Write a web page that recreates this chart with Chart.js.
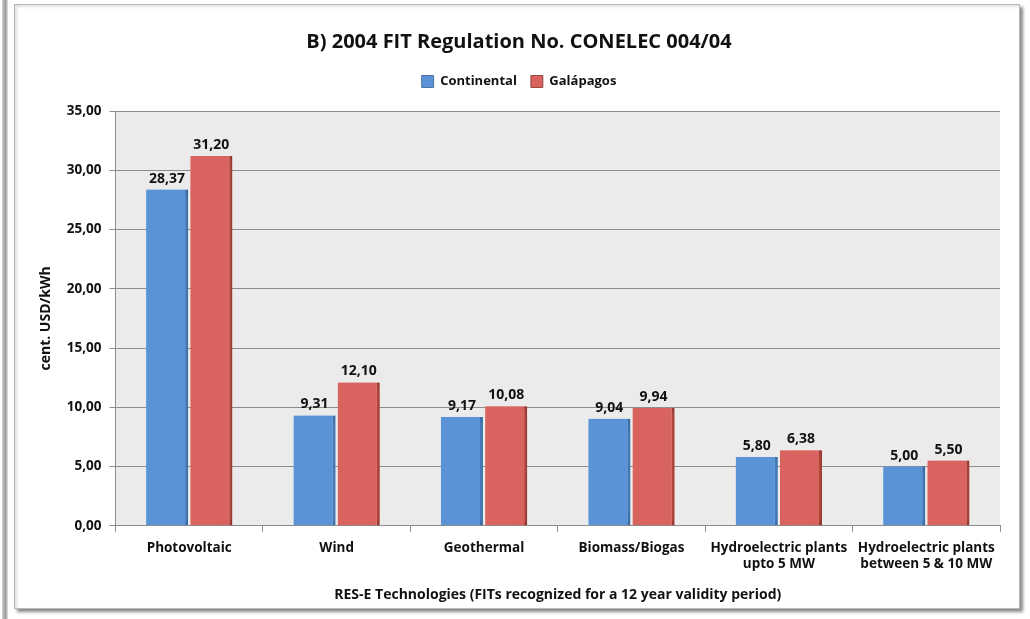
<!DOCTYPE html>
<html>
<head>
<meta charset="utf-8">
<title>2004 FIT Regulation No. CONELEC 004/04</title>
<script src="https://cdn.jsdelivr.net/npm/chart.js@4"></script>
<style>
    html, body { margin: 0; padding: 0; background: #ffffff; }
    body { width: 1030px; height: 619px; position: relative; overflow: hidden; }
    /* neighbouring panel edge on the left */
    #edge {
        position: absolute; left: 2px; top: 0; width: 6px; height: 619px;
        background: linear-gradient(to right, #d0d0d0, #9a9a9a 60%, #e6e6e6);
    }
    #frame {
        position: absolute; left: 14px; top: 4px; width: 1004px; height: 603px;
        border: 1px solid #b8b8b8; background: #ffffff;
        box-shadow: 3px 3px 3px #8a8a8a, inset 2px 2px 3px #e2e2e2;
    }
    #wrap { position: absolute; left: 0; top: 0; width: 1030px; height: 619px; }
</style>
</head>
<body>
<div id="edge"></div>
<div id="frame"></div>
<div id="wrap"><canvas id="fitChart" width="1030" height="619"></canvas></div>
<script>
// ============================================
// FIT values per RES-E technology (cent. USD/kWh)
// ============================================
var technologies = [
    'Photovoltaic',
    'Wind',
    'Geothermal',
    'Biomass/Biogas',
    ['Hydroelectric plants', 'upto 5 MW'],
    ['Hydroelectric plants', 'between 5 & 10 MW']
];
var continental = [28.37, 9.31, 9.17, 9.04, 5.80, 5.00];
var galapagos = [31.20, 12.10, 10.08, 9.94, 6.38, 5.50];
var yTicks = [0, 5, 10, 15, 20, 25, 30, 35];

var FONT = '"Open Sans", sans-serif';

function fmt(v) {
    return v.toFixed(2).replace('.', ',');
}

// grey plot background
var plotBackground = {
    id: 'plotBackground',
    beforeDraw: function (chart) {
        var a = chart.chartArea;
        var ctx = chart.ctx;
        ctx.save();
        ctx.fillStyle = '#ebebeb';
        ctx.fillRect(a.left, a.top, a.right - a.left, a.bottom - a.top);
        ctx.restore();
    }
};

// extra room under the legend
var legendGap = {
    id: 'legendGap',
    beforeInit: function (chart) {
        var origFit = chart.legend.fit;
        chart.legend.fit = function () {
            origFit.bind(chart.legend)();
            this.height += 13;
        };
    }
};

// soft glow round each bar
var barGlow = {
    id: 'barGlow',
    beforeDatasetDraw: function (chart, args) {
        var ctx = chart.ctx;
        ctx.save();
        ctx.shadowColor = args.index === 0 ? 'rgba(105,170,240,0.95)' : 'rgba(240,115,100,0.95)';
        ctx.shadowBlur = 10;
    },
    afterDatasetDraw: function (chart) {
        chart.ctx.restore();
    }
};

// value labels above bars
var valueLabels = {
    id: 'valueLabels',
    afterDatasetsDraw: function (chart) {
        var ctx = chart.ctx;
        ctx.save();
        ctx.font = 'bold 14px ' + FONT;
        ctx.fillStyle = '#111111';
        ctx.textAlign = 'center';
        ctx.textBaseline = 'bottom';
        chart.data.datasets.forEach(function (ds, i) {
            chart.getDatasetMeta(i).data.forEach(function (bar, j) {
                ctx.fillText(fmt(ds.data[j]), bar.x, bar.y - 4);
            });
        });
        ctx.restore();
    }
};

var ctx = document.getElementById('fitChart').getContext('2d');
new Chart(ctx, {
    type: 'bar',
    data: {
        labels: technologies,
        datasets: [
            {
                label: 'Continental',
                data: continental,
                backgroundColor: '#5b94d6',
                borderColor: '#2c5a90',
                borderWidth: {top: 0, right: 3, bottom: 0, left: 0},
                borderSkipped: false,
                categoryPercentage: 0.6,
                barPercentage: 0.95
            },
            {
                label: 'Galápagos',
                data: galapagos,
                backgroundColor: '#d9635e',
                borderColor: '#7e2723',
                borderWidth: {top: 0, right: 3, bottom: 0, left: 0},
                borderSkipped: false,
                categoryPercentage: 0.6,
                barPercentage: 0.95
            }
        ]
    },
    options: {
        responsive: false,
        animation: false,
        layout: {
            padding: {left: 38, right: 30, top: 30, bottom: 16}
        },
        plugins: {
            title: {
                display: true,
                text: 'B) 2004 FIT Regulation No. CONELEC 004/04',
                color: '#111111',
                font: {size: 20, weight: 'bold', family: FONT},
                padding: {top: 0, bottom: 7}
            },
            legend: {
                position: 'top',
                labels: {
                    color: '#111111',
                    font: {size: 13, weight: 'bold', family: FONT},
                    boxWidth: 12,
                    boxHeight: 12,
                    padding: 14
                }
            },
            tooltip: {enabled: false}
        },
        scales: {
            x: {
                grid: {
                    offset: true,
                    drawOnChartArea: false,
                    drawTicks: true,
                    tickLength: 6,
                    color: '#8c8c8c'
                },
                border: {color: '#8c8c8c'},
                ticks: {
                    color: '#111111',
                    font: {size: 13.5, weight: 'bold', family: FONT},
                    maxRotation: 0,
                    autoSkip: false,
                    padding: 8
                },
                title: {
                    display: true,
                    text: 'RES-E Technologies (FITs recognized for a 12 year validity period)',
                    color: '#111111',
                    font: {size: 14, weight: 'bold', family: FONT},
                    padding: {top: 6, bottom: 0}
                }
            },
            y: {
                min: 0,
                max: 35,
                afterBuildTicks: function (axis) {
                    axis.ticks = yTicks.map(function (v) { return {value: v}; });
                },
                grid: {
                    color: '#8c8c8c',
                    tickLength: 6
                },
                border: {color: '#8c8c8c'},
                ticks: {
                    color: '#111111',
                    font: {size: 13.5, weight: 'bold', family: FONT},
                    padding: 8,
                    callback: function (v) { return fmt(v); }
                },
                title: {
                    display: true,
                    text: 'cent. USD/kWh',
                    color: '#111111',
                    font: {size: 14, weight: 'bold', family: FONT},
                    padding: {top: 0, bottom: 4}
                }
            }
        }
    },
    plugins: [legendGap, plotBackground, barGlow, valueLabels]
});
</script>
</body>
</html>
